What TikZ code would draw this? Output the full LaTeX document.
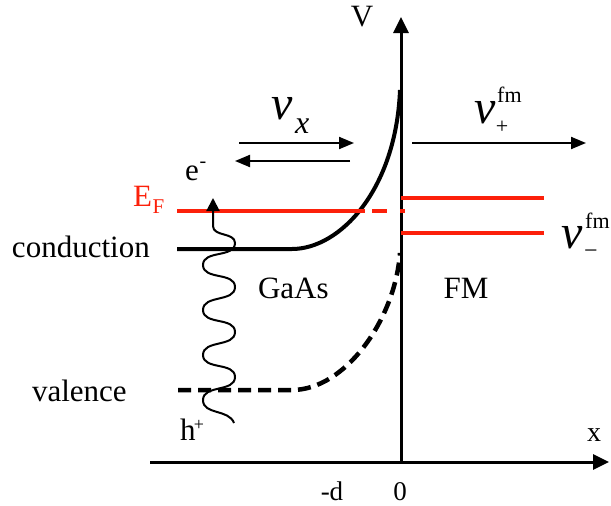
\documentclass[tikz,border=0pt]{standalone}
\usepackage{fontspec}
\setmainfont{Liberation Serif}
\usetikzlibrary{arrows.meta}
\definecolor{efred}{RGB}{252,32,10}
\begin{document}
\begin{tikzpicture}[x=1pt,y=-1pt,
  txt/.style={inner sep=0pt,outer sep=0pt,font=\fontsize{31}{31}\selectfont},
  small/.style={inner sep=0pt,outer sep=0pt,font=\fontsize{27}{27}\selectfont},
  tiny/.style={inner sep=0pt,outer sep=0pt,font=\fontsize{20}{20}\selectfont},
  bigv/.style={inner sep=0pt,outer sep=0pt,font=\fontsize{48}{48}\selectfont\itshape},
  axis/.style={line width=3pt,-{Triangle[length=16pt,width=15pt]}},
  varrow/.style={line width=2pt,-{Triangle[length=15pt,width=12pt]}},
  band/.style={line width=4pt},
  vband/.style={line width=4.5pt,dash pattern=on 13pt off 7pt},
  redline/.style={efred,line width=4.5pt},
  wave/.style={line width=2pt,-{Triangle[length=13pt,width=13pt]}}
]
\useasboundingbox (0,0) rectangle (611,506);
% axes
\coordinate (xa0) at (150,462);
\coordinate (xa1) at (609,462);
\coordinate (va0) at (401,462);
\coordinate (va1) at (401,17);
\draw[axis] (xa0) -- (xa1);
\draw[axis] (va0) -- (va1);
% conduction band
\coordinate (cb0) at (177,249);
\coordinate (cb1) at (292,249);
\coordinate (cb2) at (400,90);
\draw[band] (cb0) -- (cb1) .. controls (340,249) and (396,190) .. (cb2);
% valence band
\coordinate (vb0) at (178,390);
\coordinate (vb1) at (292,390);
\coordinate (vb2) at (400,253);
\draw[vband] (vb0) -- (vb1) .. controls (345,390) and (395,320) .. (vb2);
% Fermi level
\coordinate (ef0) at (177,211);
\coordinate (ef1) at (365,211);
\coordinate (ef1b) at (372,211);
\coordinate (ef2) at (405,211);
\draw[redline] (ef0) -- (ef1);
\draw[redline,dash pattern=on 15pt off 13pt on 5pt off 50pt] (ef1b) -- (ef2);
% FM levels
\coordinate (fu0) at (401,198);
\coordinate (fu1) at (544,198);
\coordinate (fl0) at (401,233);
\coordinate (fl1) at (544,233);
\draw[redline] (fu0) -- (fu1);
\draw[redline] (fl0) -- (fl1);
% velocity arrows
\coordinate (vr0) at (239,143);
\coordinate (vr1) at (354,143);
\coordinate (vl0) at (350,161);
\coordinate (vl1) at (235,161);
\coordinate (vp0) at (412,143);
\coordinate (vp1) at (586,143);
\draw[varrow] (vr0) -- (vr1);
\draw[varrow] (vl0) -- (vl1);
\draw[varrow] (vp0) -- (vp1);
% wavy photon line
\coordinate (w0) at (234,423);
\coordinate (wt) at (213,198);
\draw[wave] (w0) to[out=110,in=-90] (203,400)
  to[out=90,in=-90] (235,377)
  to[out=90,in=-90] (203,355)
  to[out=90,in=-90] (235,332)
  to[out=90,in=-90] (203,310)
  to[out=90,in=-90] (235,287)
  to[out=90,in=-90] (203,265)
  to[out=90,in=-90] (235,243)
  to[out=90,in=-90] (213,226) -- (wt);
% labels
\node[txt,anchor=base] (lV) at (362,26) {V};
\node[txt,anchor=base,font=\fontsize{28}{28}\selectfont] (lx) at (594,441) {x};
\node[small,anchor=base] (lmd) at (332,500) {-d};
\node[small,anchor=base] (l0) at (400,500) {0};
\node[txt,anchor=base west] (lcond) at (12,257) {conduction};
\node[txt,anchor=base west] (lval) at (32,401) {valence};
\node[txt,anchor=base west,text=efred] (lE) at (133,206) {E};
\node[tiny,anchor=base west,text=efred,font=\fontsize{21}{21}\selectfont] (lF) at (152.5,213) {F};
\node[txt,anchor=base west] (le) at (185,180) {e};
\node[tiny] (lem) at (203,165) {-};
\node[txt,anchor=base west] (lh) at (180,440) {h};
\node[tiny,font=\fontsize{18}{18}\selectfont] (lhp) at (199,425) {+};
\node[txt,anchor=base west] (lGaAs) at (258,298) {GaAs};
\node[txt,anchor=base] (lFM) at (466,298) {FM};
% v_x
\node[bigv,anchor=base west] (vx) at (271,119.5) {v};
\node[anchor=base west,inner sep=0pt,font=\fontsize{32}{32}\selectfont\itshape] (vxs) at (295,133) {x};
% v_+^fm
\node[bigv,anchor=base west] (vp) at (474,123) {v};
\node[anchor=base west,inner sep=0pt,font=\fontsize{22}{22}\selectfont] (vpfm) at (497,102) {fm};
\node[inner sep=0pt,font=\fontsize{22}{22}\selectfont] (vpp) at (502,127) {+};
% v_-^fm
\node[bigv,anchor=base west] (vm) at (561,248) {v};
\node[anchor=base west,inner sep=0pt,font=\fontsize{22}{22}\selectfont] (vmfm) at (585,228) {fm};
\node[inner sep=0pt,font=\fontsize{24}{24}\selectfont] (vmm) at (591,254) {−};
\end{tikzpicture}
\end{document}
